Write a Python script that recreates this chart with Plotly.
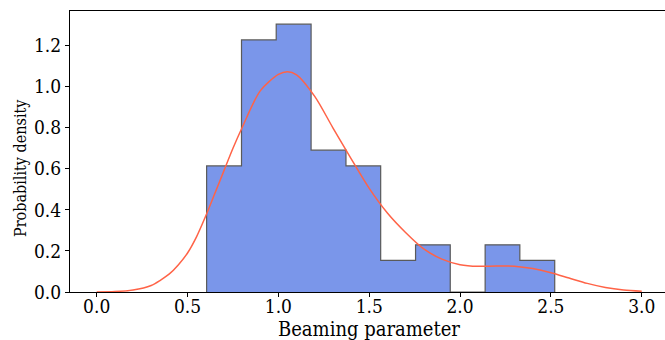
import plotly.graph_objects as go

# Histogram (density-normalised), ten equal-width bins
bin_edges = [0.605, 0.797, 0.988, 1.180, 1.372, 1.563, 1.755, 1.946, 2.138, 2.329, 2.521]
density = [0.614, 1.228, 1.305, 0.691, 0.614, 0.154, 0.230, 0.0, 0.230, 0.154]

# Kernel density estimate evaluated on a grid
kde_x = [0.0, 0.1, 0.2, 0.3, 0.35, 0.4, 0.45, 0.5, 0.55, 0.6, 0.65, 0.7, 0.75, 0.8, 0.9,
         1.0, 1.05, 1.1, 1.2, 1.3, 1.4, 1.5, 1.6, 1.7, 1.8, 1.9, 2.0, 2.1, 2.2, 2.3,
         2.4, 2.5, 2.6, 2.7, 2.8, 2.9, 3.0]
kde_y = [0.000, 0.002, 0.010, 0.032, 0.057, 0.088, 0.133, 0.190, 0.270, 0.370, 0.480,
         0.590, 0.700, 0.800, 0.980, 1.060, 1.073, 1.058, 0.953, 0.800, 0.650, 0.505,
         0.385, 0.290, 0.210, 0.160, 0.133, 0.125, 0.127, 0.126, 0.114, 0.094, 0.068,
         0.042, 0.022, 0.010, 0.004]

x_ticks = [0.0, 0.5, 1.0, 1.5, 2.0, 2.5, 3.0]
y_ticks = [0.0, 0.2, 0.4, 0.6, 0.8, 1.0, 1.2]

x_label = "Beaming parameter"
y_label = "Probability density"

# Step outline of the filled histogram
step_x = [bin_edges[0]] + bin_edges
step_y = [0.0] + density + [0.0]

fig = go.Figure()
fig.add_trace(go.Scatter(
    x=step_x, y=step_y, mode="lines", line=dict(shape="hv", color="#5a5a5a", width=1.2),
    fill="tozeroy", fillcolor="#7a96ea", hoverinfo="skip", showlegend=False,
))
fig.add_trace(go.Scatter(
    x=kde_x, y=kde_y, mode="lines",
    line=dict(color="#ff6347", width=1.5, shape="spline", smoothing=0.8),
    showlegend=False,
))

serif = "DejaVu Serif Condensed, DejaVu Serif, serif"
tick_font = dict(family=serif, size=19, color="black")
xtitle_font = dict(family=serif, size=20, color="black")
ytitle_font = dict(family=serif, size=16, color="black")

fig.update_layout(
    width=665, height=340,
    margin=dict(l=70, r=0, t=11, b=48),
    plot_bgcolor="white", paper_bgcolor="white",
    font=tick_font,
    xaxis=dict(
        range=[-0.147, 3.128], tickvals=x_ticks, ticktext=[f"{v:.1f}" for v in x_ticks],
        showgrid=False, zeroline=False, showline=True, linecolor="black", linewidth=1,
        mirror=True, ticks="outside", ticklen=4, tickwidth=1, tickcolor="black",
        tickfont=tick_font, ticklabelstandoff=-7,
    ),
    yaxis=dict(
        range=[0, 1.369], tickvals=y_ticks, ticktext=[f"{v:.1f}" for v in y_ticks],
        showgrid=False, zeroline=False, showline=True, linecolor="black", linewidth=1,
        ticks="outside", ticklen=4, tickwidth=1, tickcolor="black",
        tickfont=tick_font,
    ),
    annotations=[
        dict(text=x_label, xref="paper", yref="paper", x=(369 - 70) / 595, y=(292 - 329) / 281,
             xanchor="center", yanchor="middle", showarrow=False, font=xtitle_font),
        dict(text=y_label, xref="paper", yref="paper", x=(20 - 70) / 595, y=(292 - 168) / 281,
             xanchor="center", yanchor="middle", textangle=-90, showarrow=False,
             font=ytitle_font),
    ],
)

fig.write_html("out.html")
